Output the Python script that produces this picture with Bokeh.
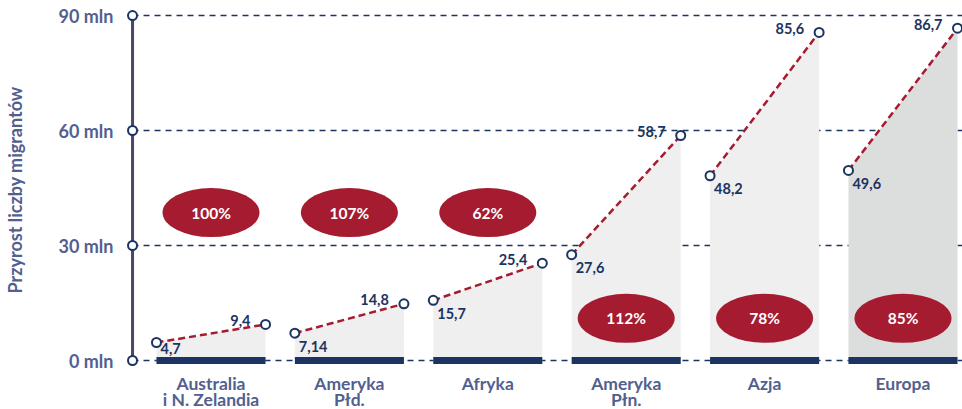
from bokeh.plotting import figure
from bokeh.models import Range1d, FixedTicker, PrintfTickFormatter, ColumnDataSource, Title
from bokeh.embed import file_html
from bokeh.resources import INLINE
from bokeh.core.properties import value

# ---- data ----
regions = ["Australia\ni N. Zelandia", "Ameryka\nPłd.", "Afryka", "Ameryka\nPłn.", "Azja", "Europa"]
start_values = [4.7, 7.14, 15.7, 27.6, 48.2, 49.6]
end_values = [9.4, 14.8, 25.4, 58.7, 85.6, 86.7]
start_labels = ["4,7", "7,14", "15,7", "27,6", "48,2", "49,6"]
end_labels = ["9,4", "14,8", "25,4", "58,7", "85,6", "86,7"]
growth_labels = ["100%", "107%", "62%", "112%", "78%", "85%"]
y_ticks = [0, 30, 60, 90]
y_title = "Przyrost liczby migrantów"

# ---- style ----
NAVY = "#1b3461"
RED = "#a51b30"
LABEL = "#52608f"
AXIS_LINE = "#4b4767"
AREA = "#efefef"
AREA_LAST = "#dcdede"
FONT = "Lato"

n = len(regions)
centers = list(range(n))
half = 0.394
gx0 = [c - half for c in centers]
gx1 = [c + half for c in centers]
px_per_unit = 115 / 30.0
axis_x = -0.567
x_left, x_right = -0.625, 5.43

p = figure(width=962, height=409,
           x_range=Range1d(x_left, x_right), y_range=Range1d(-12.78, 91.83),
           output_backend="svg", toolbar_location=None,
           min_border_left=124, min_border_right=0, min_border_top=8, min_border_bottom=0)
p.outline_line_color = None
p.xgrid.visible = False
p.ygrid.visible = False
p.xaxis.visible = False
p.background_fill_color = "white"
p.border_fill_color = "white"

# y axis
ya = p.yaxis[0]
ya.ticker = FixedTicker(ticks=y_ticks)
ya.formatter = PrintfTickFormatter(format="%d mln")
ya.axis_line_color = None
ya.major_tick_line_color = None
ya.minor_tick_line_color = None
ya.major_tick_out = 0
ya.major_tick_in = 0
ya.major_label_standoff = 11
ya.major_label_text_font = FONT
ya.major_label_text_font_style = "bold"
ya.major_label_text_font_size = "18px"
ya.major_label_text_color = LABEL
# invisible spacer label to push the side title outwards
ya.axis_label = "\u00a0"
ya.axis_label_text_font_size = "1px"
ya.axis_label_standoff = 26

# y title as a side title
p.add_layout(Title(text=y_title, align="left", offset=116, standoff=0,
                   text_font=FONT, text_font_style="bold", text_font_size="18px",
                   text_color=LABEL), "left")

# gridlines
p.segment(x0=[axis_x] * len(y_ticks), y0=y_ticks, x1=[x_right] * len(y_ticks), y1=y_ticks,
          line_color=NAVY, line_width=1.5, line_dash="6 5")

# areas
fills = [AREA] * (n - 1) + [AREA_LAST]
p.patches(xs=[[a, a, b, b] for a, b in zip(gx0, gx1)],
          ys=[[0, s, e, 0] for s, e in zip(start_values, end_values)],
          fill_color=fills, line_color=None)

# bottom bars
p.segment(x0=gx0, y0=[0] * n, x1=gx1, y1=[0] * n, line_color=NAVY, line_width=7, line_cap="butt")

# category labels
p.text(x=centers, y=[0] * n, text=regions, y_offset=12, text_align="center", text_baseline="top",
       text_font=value(FONT), text_font_style="bold", text_font_size="17.5px",
       text_color=LABEL, text_line_height=0.8)

# axis line
p.segment(x0=[axis_x], y0=[0], x1=[axis_x], y1=[max(y_ticks)], line_color=AXIS_LINE, line_width=3)
p.scatter(x=[axis_x] * len(y_ticks), y=y_ticks, marker="circle", size=9,
          fill_color="white", line_color=NAVY, line_width=2)

# red dashed growth lines
p.segment(x0=gx0, y0=start_values, x1=gx1, y1=end_values, line_color=RED, line_width=2.5, line_dash="7 4")

# circles at ends
p.scatter(x=gx0 + gx1, y=start_values + end_values, marker="circle", size=9,
          fill_color="white", line_color=NAVY, line_width=2)

# value labels
start_off = [min(13, v * px_per_unit - 12) for v in start_values]
src_s = ColumnDataSource(dict(x=gx0, y=start_values, t=start_labels, yo=start_off))
p.text(x="x", y="y", text="t", source=src_s, x_offset=4, y_offset="yo",
       text_align="left", text_baseline="middle", text_font=value(FONT),
       text_font_style="bold", text_font_size="14.5px", text_color=NAVY)
p.text(x=gx1, y=end_values, text=end_labels, x_offset=-15, y_offset=-4,
       text_align="right", text_baseline="middle", text_font=value(FONT),
       text_font_style="bold", text_font_size="14.5px", text_color=NAVY)

# growth ellipses
ell_y = [38.6 if e < 30 else 11.0 for e in end_values]
p.ellipse(x=centers, y=ell_y, width=97, height=49, width_units="screen", height_units="screen",
          fill_color=RED, line_color=None)
p.text(x=centers, y=ell_y, text=growth_labels, text_align="center", text_baseline="middle",
       text_font=value(FONT), text_font_style="bold", text_font_size="15.5px", text_color="white")

open("out.html", "w").write(file_html(p, INLINE))
